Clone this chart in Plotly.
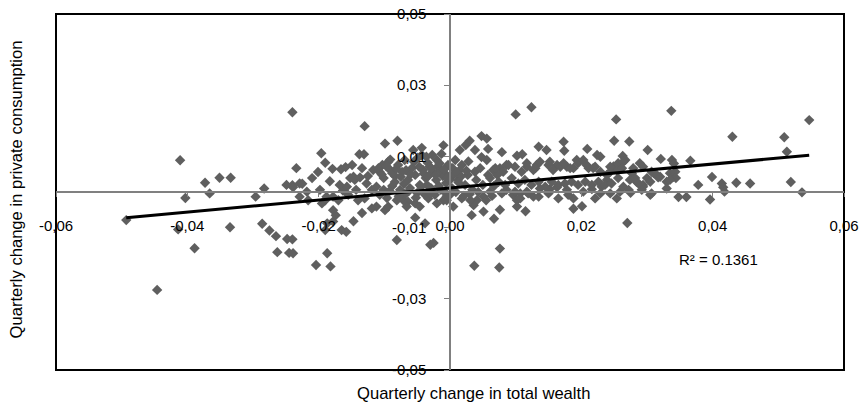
import plotly.graph_objects as go

# ---- data (quarterly change in total wealth vs. private consumption) ----
wealth_a = [-0.0493, -0.0446, -0.0414, -0.0411, -0.0403, -0.0389, -0.0373, -0.0366, -0.0351, -0.0334,
            -0.0335, -0.0296, -0.0283, -0.0286, -0.0275, -0.0265, -0.0248, -0.0263, -0.0245, -0.0249,
            -0.0240, -0.0240, -0.0234, -0.0229, -0.0225, -0.0229, -0.0218, -0.0239, -0.0240, -0.0239,
            -0.0204, -0.0187, -0.0182, -0.0196, -0.0190, -0.0179, -0.0166, -0.0159, -0.0183, -0.0198,
            -0.0188, -0.0195, -0.0190, -0.0187, -0.0178, -0.0165, -0.0158, -0.0147, -0.0178, -0.0174,
            -0.0178, -0.0170, -0.0190, -0.0163, -0.0157, -0.0152, -0.0145, -0.0137, -0.0147, -0.0138,
            -0.0131, -0.0130, -0.0099, -0.0080, -0.0091, -0.0117, -0.0109, -0.0103, -0.0094, -0.0127,
            -0.0119, -0.0112, -0.0140, -0.0130, -0.0119, -0.0112, -0.0099, -0.0094, -0.0081, -0.0071,
            -0.0064, -0.0053, -0.0046, -0.0053, -0.0038, -0.0033, -0.0020, -0.0010, -0.0081, -0.0030,
            -0.0025, -0.0066, -0.0010, -0.0013, -0.0036]
cons_a = [-0.0079, -0.0275, -0.0105, 0.0089, -0.0017, -0.0158, 0.0026, -0.0004, 0.0040, 0.0040,
          -0.0099, -0.0013, 0.0010, -0.0089, -0.0108, -0.0124, -0.0132, -0.0169, -0.0171, 0.0020,
          0.0019, 0.0224, 0.0067, 0.0024, 0.0023, -0.0013, 0.0001, 0.0013, -0.0133, -0.0172,
          -0.0205, -0.0172, -0.0209, 0.0109, 0.0082, 0.0065, 0.0064, 0.0070, 0.0030, 0.0006,
          -0.0013, -0.0032, -0.0107, -0.0088, -0.0083, -0.0107, -0.0112, -0.0082, -0.0051, -0.0065,
          -0.0013, -0.0023, -0.0023, 0.0004, 0.0015, 0.0039, 0.0034, 0.0041, 0.0043, 0.0106,
          0.0106, 0.0185, 0.0136, 0.0144, 0.0091, 0.0062, 0.0067, 0.0076, 0.0085, 0.0024,
          0.0006, 0.0015, -0.0023, -0.0018, -0.0046, -0.0041, -0.0051, -0.0041, -0.0023, -0.0023,
          -0.0027, -0.0032, -0.0041, -0.0072, -0.0088, -0.0018, -0.0032, -0.0023, -0.0135, -0.0148,
          -0.0143, -0.0041, 0.0131, 0.0107, 0.0099]

wealth_b = [0.0124, 0.0100, 0.0030, 0.0048, 0.0056, 0.0058, 0.0079, 0.0048, 0.0028, 0.0102,
            0.0110, 0.0135, 0.0147, 0.0173, 0.0174, 0.0209, 0.0224, 0.0193, 0.0152, 0.0163,
            0.0132, 0.0117, 0.0127, 0.0086, 0.0076, 0.0066, 0.0058, 0.0038, 0.0015, 0.0005,
            -0.0008, 0.0178, 0.0188, 0.0208, 0.0218, 0.0229, 0.0239, 0.0102, 0.0115, 0.0076,
            0.0067, 0.0033, 0.0051, 0.0036, 0.0041, 0.0018, 0.0005, -0.0005, 0.0188, 0.0201,
            0.0188, 0.0221, 0.0076, 0.0037, 0.0075, 0.0137, 0.0152, 0.0163, 0.0178, 0.0203,
            0.0216, 0.0117, 0.0107, 0.0086, 0.0096, 0.0061, 0.0051, 0.0102, 0.0127]
cons_b = [0.0238, 0.0218, 0.0144, 0.0157, 0.0150, 0.0121, 0.0112, 0.0098, 0.0086, 0.0102,
          0.0106, 0.0127, 0.0118, 0.0141, 0.0116, 0.0121, 0.0104, 0.0090, 0.0085, 0.0076,
          0.0076, 0.0071, 0.0062, 0.0076, 0.0067, 0.0062, 0.0048, 0.0057, 0.0062, 0.0048,
          0.0053, 0.0071, 0.0067, 0.0076, 0.0067, 0.0057, 0.0048, -0.0041, -0.0054, -0.0050,
          -0.0075, -0.0065, -0.0055, -0.0037, -0.0023, -0.0018, -0.0041, -0.0023, -0.0018, -0.0040,
          -0.0047, -0.0018, -0.0159, -0.0207, -0.0212, 0.0010, 0.0008, 0.0013, 0.0006, 0.0001,
          0.0008, 0.0001, -0.0004, 0.0006, -0.0008, 0.0001, -0.0013, -0.0023, -0.0013]

wealth_c = [0.0253, 0.0250, 0.0273, 0.0263, 0.0267, 0.0301, 0.0321, 0.0337, 0.0338, 0.0341,
            0.0366, 0.0430, 0.0509, 0.0513, 0.0547, 0.0378, 0.0399, 0.0414, 0.0416, 0.0418,
            0.0436, 0.0457, 0.0519, 0.0536, 0.0348, 0.0360, 0.0396, 0.0305, 0.0275, 0.0259,
            0.0294, 0.0284, 0.0310, 0.0320, 0.0335, 0.0340, 0.0330, 0.0289, 0.0294, 0.0249,
            0.0256, 0.0254, 0.0244, 0.0279, 0.0277, 0.0307, 0.0315, 0.0343, 0.0344, 0.0239,
            0.0256, 0.0274, 0.0282, 0.0287, 0.0300, 0.0305, 0.0317, 0.0335, 0.0330, 0.0294,
            0.0292, 0.0264, 0.0272, 0.0307, 0.0231, 0.0229, 0.0270, 0.0229]
cons_c = [0.0204, 0.0144, 0.0142, 0.0101, 0.0090, 0.0118, 0.0093, 0.0228, 0.0090, 0.0080,
          0.0088, 0.0155, 0.0154, 0.0113, 0.0202, 0.0020, 0.0042, 0.0024, 0.0013, 0.0001,
          0.0026, 0.0024, 0.0028, -0.0001, -0.0014, -0.0014, -0.0021, -0.0008, -0.0002, 0.0001,
          0.0020, 0.0029, 0.0053, 0.0043, 0.0053, 0.0043, 0.0029, 0.0081, 0.0071, 0.0072,
          0.0081, 0.0062, 0.0057, 0.0067, 0.0053, 0.0057, 0.0048, 0.0057, 0.0039, 0.0034,
          0.0039, 0.0034, 0.0039, 0.0024, 0.0039, 0.0029, 0.0041, 0.0034, 0.0010, 0.0015,
          0.0006, 0.0015, 0.0006, -0.0004, 0.0015, -0.0004, -0.0087, 0.0099]

wealth_d = [-0.0107, -0.0101, -0.0091, -0.0084, -0.0079, -0.0073, -0.0069, -0.0064, -0.0058, -0.0053,
            -0.0049, -0.0046, -0.0041, -0.0037, -0.0034, -0.0029, -0.0026, -0.0021, -0.0018, -0.0014,
            -0.0011, -0.0006, -0.0003, -0.0088, -0.0076, -0.0069, -0.0061, -0.0050, -0.0038, -0.0023,
            -0.0096, -0.0084, -0.0056, -0.0043, -0.0027, -0.0020, -0.0015, -0.0070, -0.0035, -0.0008,
            -0.0107, -0.0101, 0.0000, 0.0000, -0.0043, -0.0031,
            -0.0168, -0.0155, -0.0143, -0.0134, -0.0125, -0.0149, -0.0210, -0.0201, -0.0216, -0.0134]
cons_d = [0.0056, 0.0039, 0.0062, 0.0045, 0.0076, 0.0056, 0.0090, 0.0034, 0.0067, 0.0048,
          0.0096, 0.0020, 0.0062, 0.0039, 0.0082, 0.0011, 0.0056, 0.0034, 0.0073, 0.0006,
          0.0045, 0.0025, 0.0076, 0.0017, 0.0006, -0.0008, 0.0011, -0.0003, -0.0008, -0.0008,
          -0.0017, 0.0028, 0.0118, 0.0124, 0.0104, 0.0090, 0.0062, 0.0023, 0.0020, 0.0000,
          -0.0008, 0.0006, -0.0008, 0.0034, 0.0104, 0.0071,
          0.0020, -0.0008, 0.0006, 0.0067, 0.0045, 0.0076, 0.0039, 0.0056, -0.0023, -0.0059]

wealth_e = [0.0008, 0.0012, 0.0018, 0.0023, 0.0027, 0.0034, 0.0040, 0.0046, 0.0050, 0.0056,
            0.0061, 0.0067, 0.0072, 0.0009, 0.0021, 0.0031, 0.0043, 0.0055, 0.0064, 0.0003,
            0.0015, 0.0038, 0.0024,
            0.0069, 0.0089, 0.0081, 0.0099, 0.0109, 0.0117, 0.0130, 0.0137, 0.0150, 0.0157,
            0.0168, 0.0173, 0.0183, 0.0195, 0.0203, 0.0211, 0.0221, 0.0244, 0.0264, 0.0262]
cons_e = [0.0090, 0.0034, 0.0076, 0.0020, 0.0048, 0.0006, 0.0034, 0.0067, 0.0020, 0.0090,
          0.0039, 0.0017, 0.0048, 0.0000, -0.0011, -0.0023, 0.0000, -0.0023, -0.0011, 0.0011,
          0.0118, 0.0118, 0.0132,
          0.0067, 0.0076, 0.0057, 0.0071, 0.0057, 0.0081, 0.0067, 0.0085, 0.0076, 0.0062,
          0.0071, 0.0081, 0.0067, 0.0081, 0.0090, 0.0067, 0.0071, 0.0071, 0.0085, 0.0067]

wealth_f = [0.0074, 0.0084, 0.0094, 0.0104, 0.0114, 0.0124, 0.0135, 0.0145, 0.0155, 0.0165,
            0.0175, 0.0185, 0.0195, 0.0206, 0.0216, 0.0226, 0.0236, 0.0246,
            0.0079, 0.0099, 0.0107, 0.0119, 0.0135, 0.0150, 0.0165, 0.0180, 0.0244, 0.0254]
cons_f = [0.0029, 0.0020, 0.0039, 0.0024, 0.0034, 0.0020, 0.0029, 0.0015, 0.0029, 0.0020,
          0.0024, 0.0029, 0.0020, 0.0029, 0.0020, 0.0029, 0.0020, 0.0024,
          -0.0004, 0.0001, -0.0018, -0.0004, -0.0013, -0.0004, -0.0018, -0.0008, -0.0004, -0.0018]

wealth_g = [-0.0104, -0.0097, -0.0088, -0.0082, -0.0075, -0.0067, -0.0060, -0.0055, -0.0047, -0.0040,
            -0.0033, -0.0028, -0.0022, -0.0016, -0.0009, -0.0004, 0.0004, 0.0010, 0.0017, 0.0025,
            -0.0092, -0.0078, -0.0063, -0.0052, -0.0044, -0.0030, -0.0017, -0.0005, 0.0013, 0.0030]
cons_g = [0.0049, 0.0072, 0.0053, 0.0065, 0.0043, 0.0061, 0.0050, 0.0085, 0.0071, 0.0052,
          0.0045, 0.0066, 0.0048, 0.0081, 0.0063, 0.0040, 0.0067, 0.0055, 0.0044, 0.0060,
          0.0003, -0.0012, 0.0002, -0.0016, 0.0015, -0.0005, 0.0017, -0.0012, 0.0027, -0.0006]

trend_slope = 0.1686
trend_intercept = 0.0011
r_squared_label = "R² = 0.1361"

x_ticks = [-0.06, -0.04, -0.02, 0.00, 0.02, 0.04, 0.06]
x_tick_labels = ["-0,06", "-0,04", "-0,02", "0,00", "0,02", "0,04", "0,06"]
y_ticks = [-0.05, -0.03, -0.01, 0.01, 0.03, 0.05]
y_tick_labels = ["-0,05", "-0,03", "-0,01", "0,01", "0,03", "0,05"]

x_title = "Quarterly change in total wealth"
y_title = "Quarterly change in private consumption"

# ---- assemble ----
wealth = wealth_a + wealth_b + wealth_c + wealth_d + wealth_e + wealth_f + wealth_g
cons = cons_a + cons_b + cons_c + cons_d + cons_e + cons_f + cons_g
assert len(wealth) == len(cons)

tx = [min(wealth), max(wealth)]
ty = [trend_intercept + trend_slope * v for v in tx]

FONT = "'Liberation Sans', Arial, sans-serif"

fig = go.Figure()
fig.add_trace(go.Scatter(
    x=wealth, y=cons, mode="markers",
    marker=dict(symbol="diamond", size=8, color="#5f5f5f", line=dict(width=0)),
    hoverinfo="skip"))
fig.add_trace(go.Scatter(
    x=tx, y=ty, mode="lines",
    line=dict(color="black", width=3), hoverinfo="skip"))

fig.update_layout(
    width=860, height=408,
    margin=dict(l=56, r=16, t=14, b=38),
    plot_bgcolor="white", paper_bgcolor="white",
    showlegend=False,
    font=dict(family=FONT, size=15, color="black"),
    xaxis=dict(range=[-0.06, 0.06], tickvals=x_ticks, ticktext=x_tick_labels,
               showgrid=False, zeroline=False, showline=True,
               linecolor="#808080", linewidth=1.5,
               anchor="free", position=0.5,
               ticks="outside", ticklen=4, tickcolor="#808080",
               ticklabelstandoff=16, automargin=False),
    yaxis=dict(range=[-0.05, 0.05], tickvals=y_ticks, ticktext=y_tick_labels,
               showgrid=False, zeroline=False, showline=True,
               linecolor="#808080", linewidth=1.5,
               anchor="free", position=0.5,
               ticks="outside", ticklen=5, tickcolor="#808080",
               ticklabelstandoff=15, automargin=False),
    shapes=[dict(type="rect", xref="paper", yref="paper", x0=0, x1=1, y0=0, y1=1,
                 line=dict(color="black", width=2), layer="below")],
    annotations=[
        dict(text=x_title, xref="paper", yref="paper", x=0.53, y=-0.065,
             xanchor="center", yanchor="middle", showarrow=False, font=dict(size=16.6)),
        dict(text=y_title, xref="paper", yref="paper", x=-0.05, y=0.506,
             xanchor="center", yanchor="middle", textangle=-90, showarrow=False,
             font=dict(size=16.6)),
        dict(text=r_squared_label, xref="x", yref="y", x=0.0346, y=-0.0190,
             xanchor="left", yanchor="middle", showarrow=False, font=dict(size=15)),
    ],
)

fig.write_html("out.html")
